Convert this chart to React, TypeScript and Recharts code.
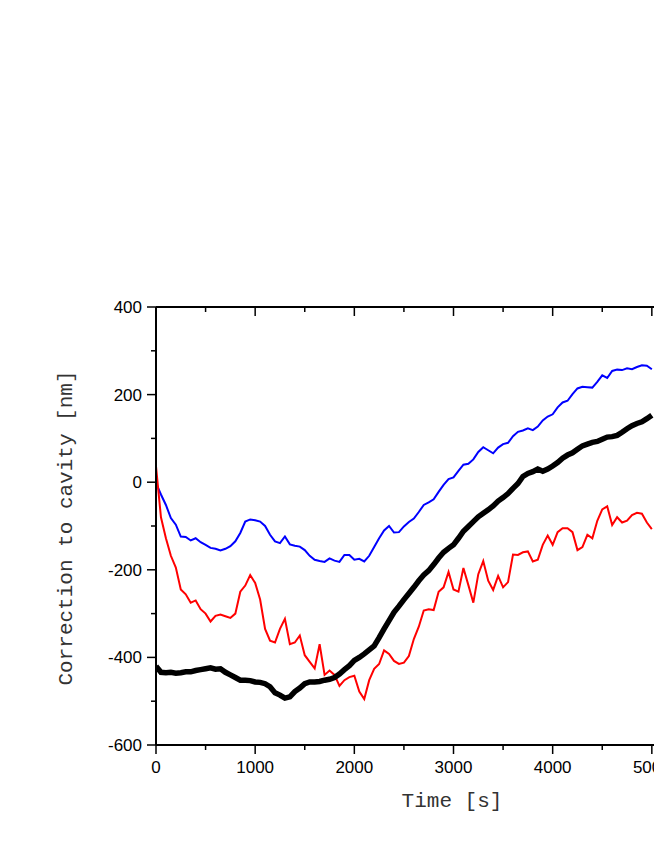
import React from 'react';
import { LineChart, Line, XAxis, YAxis, Label } from 'recharts';

// time base (s), one reading every 50 s
const times = [
  0, 50, 100, 150, 200, 250, 300, 350, 400, 450, 500, 550, 600, 650, 700, 750, 800, 850, 900, 950,
  1000, 1050, 1100, 1150, 1200, 1250, 1300, 1350, 1400, 1450, 1500, 1550, 1600, 1650, 1700, 1750, 1800, 1850, 1900, 1950,
  2000, 2050, 2100, 2150, 2200, 2250, 2300, 2350, 2400, 2450, 2500, 2550, 2600, 2650, 2700, 2750, 2800, 2850, 2900, 2950,
  3000, 3050, 3100, 3150, 3200, 3250, 3300, 3350, 3400, 3450, 3500, 3550, 3600, 3650, 3700, 3750, 3800, 3850, 3900, 3950,
  4000, 4050, 4100, 4150, 4200, 4250, 4300, 4350, 4400, 4450, 4500, 4550, 4600, 4650, 4700, 4750, 4800, 4850, 4900, 4950,
  5000,
];

const blueSeries = [
  -2, -28, -52, -82, -97, -124, -125, -133, -128, -137, -143, -150, -152, -156, -152, -146, -135, -116, -90, -85,
  -87, -90, -100, -120, -135, -139, -124, -142, -145, -147, -155, -168, -177, -180, -182, -174, -179, -182, -166, -166,
  -177, -175, -181, -168, -148, -128, -110, -100, -115, -114, -101, -91, -83, -68, -52, -46, -39, -22, -6, 7,
  11, 26, 40, 42, 52, 69, 80, 73, 66, 79, 87, 90, 105, 115, 118, 123, 119, 127, 141, 150,
  155, 171, 182, 186, 201, 214, 218, 217, 216, 229, 244, 238, 254, 257, 256, 260, 258, 263, 267, 266,
  258,
];

const redSeries = [
  36, -80, -128, -168, -195, -245, -256, -275, -270, -290, -300, -318, -305, -302, -306, -310, -300, -250, -236, -212,
  -230, -268, -335, -362, -366, -335, -312, -370, -366, -350, -395, -410, -425, -370, -440, -430, -440, -465, -452, -445,
  -442, -478, -495, -452, -426, -415, -384, -392, -408, -415, -412, -397, -358, -330, -293, -290, -292, -250, -240, -205,
  -245, -250, -196, -235, -275, -210, -180, -225, -246, -214, -240, -228, -165, -166, -160, -158, -181, -177, -143, -122,
  -143, -114, -105, -105, -114, -155, -148, -120, -128, -88, -62, -55, -98, -80, -92, -88, -75, -70, -72, -92,
  -107,
];

const blackSeries = [
  -420, -434, -435, -434, -436, -435, -433, -433, -430, -428, -426, -424, -427, -426, -434, -440, -446, -452, -452, -453,
  -456, -457, -460, -467, -481, -486, -493, -490, -478, -470, -460, -456, -456, -455, -452, -450, -446, -438, -428, -419,
  -407, -400, -392, -383, -374, -355, -335, -316, -297, -283, -268, -254, -240, -225, -212, -202, -188, -173, -160, -151,
  -143, -128, -112, -101, -90, -79, -71, -63, -54, -43, -35, -26, -14, -3, 13, 20, 24, 30, 25, 30,
  37, 45, 55, 62, 67, 75, 83, 87, 91, 93, 98, 103, 104, 107, 114, 122, 129, 134, 138, 145,
  153,
];

const xTicks = [0, 500, 1000, 1500, 2000, 2500, 3000, 3500, 4000, 4500, 5000, 5500, 6000];
const yTicks = [-600, -500, -400, -300, -200, -100, 0, 100, 200, 300, 400];

const rows = times.map((t, i) => ({
  t,
  blue: blueSeries[i],
  red: redSeries[i],
  black: blackSeries[i],
}));

const tickFont = '"Liberation Sans", Arial, sans-serif';
const titleFont = '"Liberation Mono", "Courier New", monospace';

const BottomTick = (props: any) => {
  const { x, y, payload } = props;
  const major = payload.value % 1000 === 0;
  return (
    <g>
      <line x1={x} x2={x} y1={y} y2={y + (major ? 9 : 5)} stroke="#000" strokeWidth={1.5} />
      {major && (
        <text x={x} y={y + 28} textAnchor="middle" fontSize={17} fontFamily={tickFont} fill="#000">
          {payload.value}
        </text>
      )}
    </g>
  );
};

const TopTick = (props: any) => {
  const { x, y, payload } = props;
  const major = payload.value % 1000 === 0;
  return <line x1={x} x2={x} y1={y} y2={y + (major ? 9 : 5)} stroke="#000" strokeWidth={1.5} />;
};

const LeftTick = (props: any) => {
  const { x, y, payload } = props;
  const major = payload.value % 200 === 0;
  return (
    <g>
      <line x1={x - (major ? 9 : 5)} x2={x} y1={y} y2={y} stroke="#000" strokeWidth={1.5} />
      {major && (
        <text x={x - 14} y={y + 6} textAnchor="end" fontSize={17} fontFamily={tickFont} fill="#000">
          {payload.value}
        </text>
      )}
    </g>
  );
};

const App: React.FC = () => {
  return (
    <div
      style={{
        position: 'fixed',
        left: 0,
        top: 0,
        width: 654,
        height: 846,
        overflow: 'hidden',
        background: '#fff',
      }}
    >
      <div style={{ position: 'absolute', left: 8, top: 8 }}>
        <LineChart width={753} height={828} data={rows} margin={{ top: 279, right: 10, bottom: 11, left: 0 }}>
          <XAxis
            xAxisId="bottom"
            dataKey="t"
            type="number"
            domain={[0, 6000]}
            ticks={xTicks}
            interval={0}
            tickSize={0}
            tickMargin={0}
            tickLine={false}
            tick={(p: any) => <BottomTick {...p} />}
            axisLine={{ stroke: '#000', strokeWidth: 2 }}
            height={80}
            allowDataOverflow
          >
            <Label
              content={({ viewBox }: any) => (
                <text
                  x={viewBox.x + 296}
                  y={viewBox.y + 62}
                  textAnchor="middle"
                  fontSize={21}
                  fontFamily={titleFont}
                  fill="#333"
                >
                  Time [s]
                </text>
              )}
            />
          </XAxis>
          <XAxis
            xAxisId="top"
            orientation="top"
            dataKey="t"
            type="number"
            domain={[0, 6000]}
            ticks={xTicks}
            interval={0}
            tickSize={0}
            tickMargin={0}
            tickLine={false}
            tick={(p: any) => <TopTick {...p} />}
            axisLine={{ stroke: '#000', strokeWidth: 2 }}
            height={20}
            allowDataOverflow
          />
          <YAxis
            type="number"
            domain={[-600, 400]}
            ticks={yTicks}
            interval={0}
            tickSize={0}
            tickMargin={0}
            tickLine={false}
            tick={(p: any) => <LeftTick {...p} />}
            axisLine={{ stroke: '#000', strokeWidth: 2 }}
            width={148}
            allowDataOverflow
          >
            <Label
              content={({ viewBox }: any) => {
                const cx = viewBox.x + 64;
                const cy = viewBox.y + viewBox.height / 2 + 2;
                return (
                  <text
                    x={cx}
                    y={cy}
                    transform={`rotate(-90 ${cx} ${cy})`}
                    textAnchor="middle"
                    fontSize={21}
                    fontFamily={titleFont}
                    fill="#333"
                  >
                    Correction to cavity [nm]
                  </text>
                );
              }}
            />
          </YAxis>
          <Line xAxisId="bottom" type="linear" dataKey="blue" stroke="#0000ff" strokeWidth={2} dot={false} isAnimationActive={false} />
          <Line xAxisId="bottom" type="linear" dataKey="red" stroke="#ff0000" strokeWidth={2} dot={false} isAnimationActive={false} />
          <Line xAxisId="bottom" type="linear" dataKey="black" stroke="#000000" strokeWidth={5.5} dot={false} isAnimationActive={false} />
        </LineChart>
      </div>
    </div>
  );
};

export default App;
